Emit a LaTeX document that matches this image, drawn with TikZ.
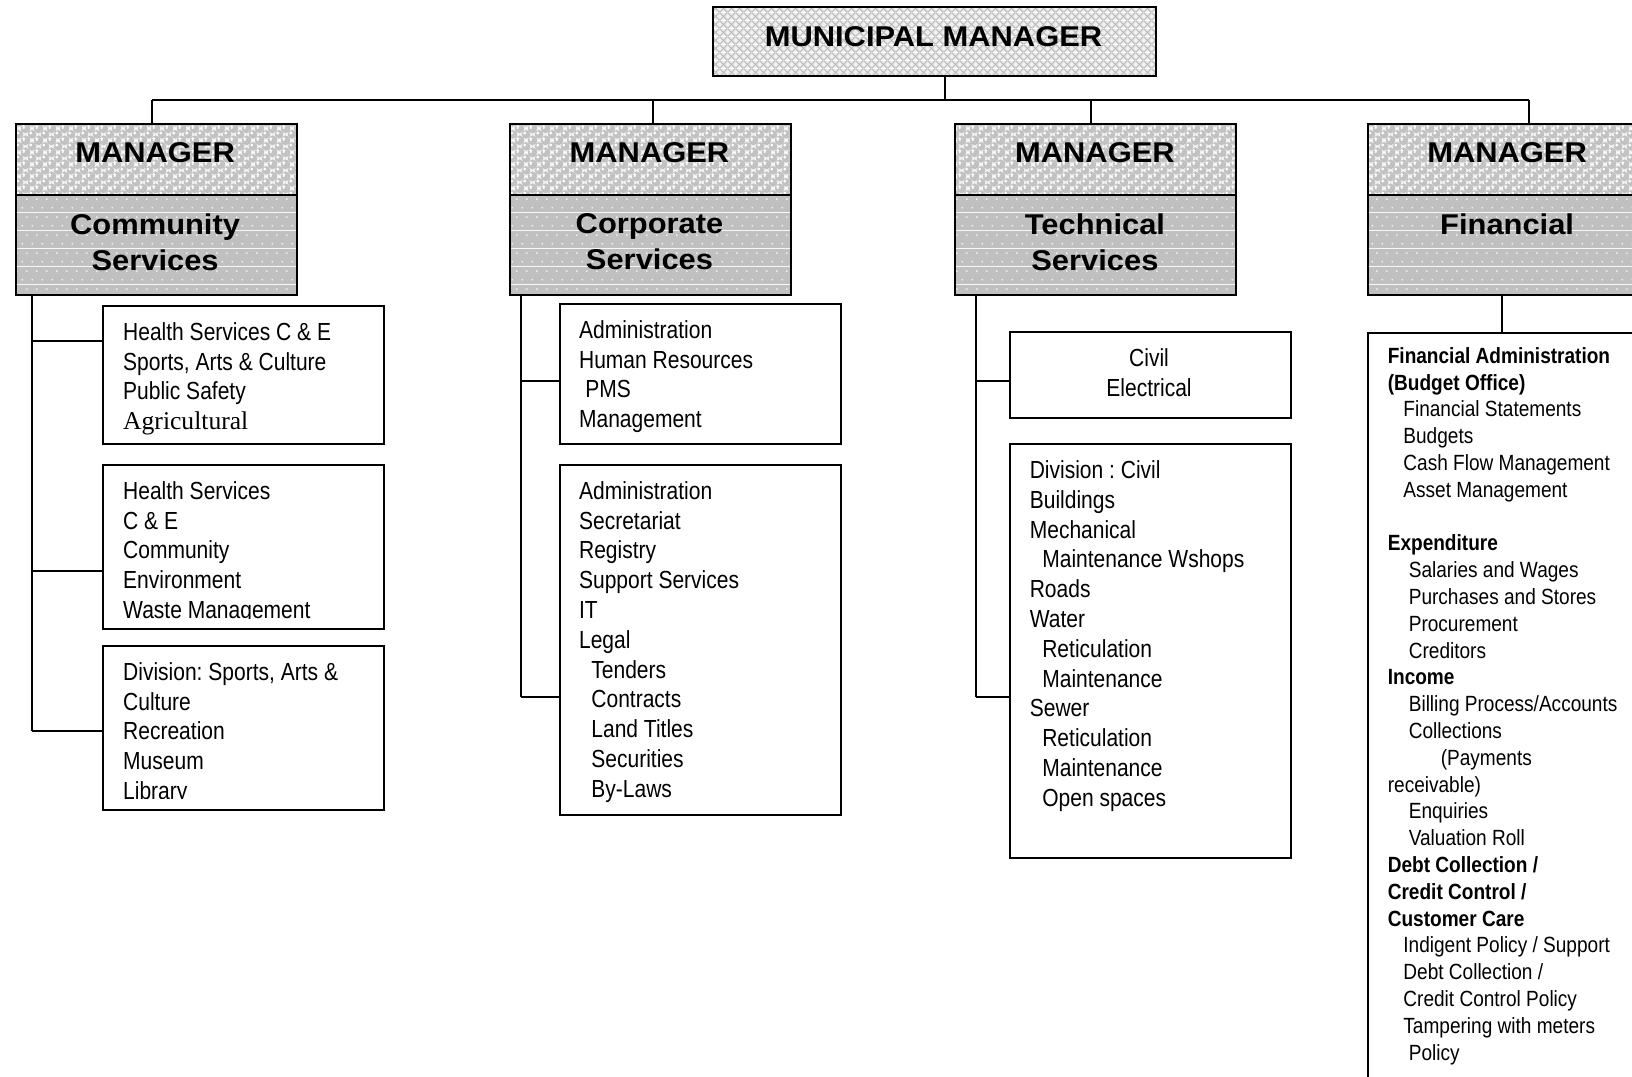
\documentclass[tikz,border=0pt]{standalone}
\usepackage{fontspec}
\usetikzlibrary{patterns.meta}
\newfontfamily\headfont[FakeStretch=1.08]{Liberation Sans}
\newfontfamily\bodyfont[FakeStretch=0.85]{Liberation Sans}
\newfontfamily\finfont[FakeStretch=0.866]{Liberation Sans}
\newfontfamily\romanfont{Liberation Serif}
\frenchspacing

\definecolor{svcgray}{HTML}{C0C0C0}
\definecolor{bubblebg}{HTML}{F2F2F2}
\definecolor{bubblefg}{HTML}{C2C2C2}
\definecolor{weavebg}{HTML}{EEEEEE}
\definecolor{weaveln}{HTML}{BABABA}

% textures for the heading boxes
\tikzdeclarepattern{
  name=weave,
  type=colored,
  bounding box={(0pt,0pt) and (4pt,4pt)},
  tile size={(4pt,4pt)},
  code={
    \fill[weavebg] (0pt,0pt) rectangle (4pt,4pt);
    \draw[weaveln, line width=0.55pt] (0pt,0pt) -- (4pt,4pt) (0pt,4pt) -- (4pt,0pt);
  }
}
\tikzdeclarepattern{
  name=bubbles,
  type=colored,
  bounding box={(0pt,0pt) and (6.5pt,6pt)},
  tile size={(6.5pt,6pt)},
  code={
    \fill[bubblebg] (0pt,0pt) rectangle (6.5pt,6pt);
    \fill[bubblefg] (0pt,0pt) circle (2.3pt);
    \fill[bubblefg] (6.5pt,0pt) circle (2.3pt);
    \fill[bubblefg] (0pt,6pt) circle (2.3pt);
    \fill[bubblefg] (6.5pt,6pt) circle (2.3pt);
    \fill[bubblefg] (3.25pt,3pt) circle (2.3pt);
    \fill[white] (2.55pt,3.7pt) circle (0.85pt);
    \fill[white] (5.8pt,0.7pt) circle (0.85pt);
    \fill[white] (-0.7pt,0.7pt) circle (0.85pt);
    \fill[white] (5.8pt,6.7pt) circle (0.85pt);
    \fill[white] (-0.7pt,6.7pt) circle (0.85pt);
  }
}
\tikzdeclarepattern{
  name=greydots,
  type=colored,
  bounding box={(0pt,0pt) and (5pt,9pt)},
  tile size={(5pt,9pt)},
  code={
    \fill[svcgray] (0pt,0pt) rectangle (5pt,9pt);
    \fill[white] (1.25pt,2.25pt) circle (0.45pt);
    \fill[white] (3.75pt,6.75pt) circle (0.45pt);
  }
}

\tikzset{
  box/.style={draw, line width=1pt, inner sep=0pt, anchor=north west},
  conn/.style={line width=1pt},
  headtxt/.style={font=\headfont\bfseries\fontsize{14.3}{18}\selectfont, inner sep=0pt, align=center},
  bodytxt/.style={font=\bodyfont\fontsize{12.36}{14.9}\selectfont\frenchspacing, inner sep=0pt, align=left, anchor=north west},
  fintxt/.style={font=\finfont\fontsize{11}{13.4}\selectfont\frenchspacing, inner sep=0pt, align=left, anchor=north west},
  mgrtop/.style={box, pattern=bubbles, minimum width=140.5pt, minimum height=35.3pt},
  mgrbot/.style={box, pattern=greydots, minimum width=140.5pt, minimum height=49.95pt},
  subbox/.style={box, minimum width=140.5pt},
}

\begin{document}
\begin{tikzpicture}[x=0.5pt,y=-0.5pt]
\useasboundingbox (0,0) rectangle (1632,1076);

% municipal manager
\node[box, pattern=weave, minimum width=221.5pt, minimum height=34.5pt] (mm) at (712,6) {};
\node[headtxt] (mmt) at (933.5,36.4) {MUNICIPAL MANAGER};

% department heads
\node[mgrtop] (m1) at (14.6,123) {};
\node[mgrbot] (s1) at (14.6,193.6) {};
\node[headtxt] (m1t) at (155.1,153) {MANAGER};
\node[headtxt] (s1t) at (155.1,242) {Community\\Services};

\node[mgrtop] (m2) at (509,123) {};
\node[mgrbot] (s2) at (509,193.6) {};
\node[headtxt] (m2t) at (649.5,153) {MANAGER};
\node[headtxt] (s2t) at (649.5,242) {Corporate\\Services};

\node[mgrtop] (m3) at (954.4,123) {};
\node[mgrbot] (s3) at (954.4,193.6) {};
\node[headtxt] (m3t) at (1094.9,153) {MANAGER};
\node[headtxt] (s3t) at (1094.9,242) {Technical\\Services};

\node[mgrtop] (m4) at (1366.6,123) {};
\node[mgrbot] (s4) at (1366.6,193.6) {};
\node[headtxt] (m4t) at (1507.1,153) {MANAGER};
\node[headtxt] (s4t) at (1507.1,224) {Financial};

% top-level connectors
\coordinate (top) at (945,100);
\coordinate (bus1) at (152,100);
\coordinate (bus2) at (652.6,100);
\coordinate (bus3) at (1090.8,100);
\coordinate (bus4) at (1529,100);
\draw[conn] (top |- mm.south) -- (top);
\draw[conn] (bus1) -- (bus4);
\draw[conn] (bus1) -- (bus1 |- m1.north);
\draw[conn] (bus2) -- (bus2 |- m2.north);
\draw[conn] (bus3) -- (bus3 |- m3.north);
\draw[conn] (bus4) -- (bus4 |- m4.north);

% community services
\node[subbox, minimum height=69pt] (a1) at (102,305) {};
\node[subbox, minimum height=81.8pt] (a2) at (102,464) {};
\node[subbox, minimum height=82pt] (a3) at (102,645) {};
\node[bodytxt] (a1t) at (122.8,319) {\strut Health Services C \& E\\
Sports, Arts \& Culture\\
Public Safety\\
{\romanfont\fontsize{12.8}{14.9}\selectfont Agricultural}};
\begin{scope}
\clip (102,464) rectangle (383,618);
\node[bodytxt] (a2t) at (122.8,478) {\strut Health Services\\
C \& E\\
Community\\
Environment\\
Waste Management};
\end{scope}
\begin{scope}
\clip (102,645) rectangle (383,798);
\node[bodytxt] (a3t) at (122.8,659) {\strut Division: Sports, Arts \&\\
Culture\\
Recreation\\
Museum\\
Library};
\end{scope}
\coordinate (v1a) at (32.3,341.4);
\coordinate (v1b) at (32.3,571.4);
\coordinate (v1c) at (32.3,730.6);
\draw[conn] (v1a |- s1.south) -- (v1c);
\draw[conn] (v1a) -- (v1a -| a1.west);
\draw[conn] (v1b) -- (v1b -| a2.west);
\draw[conn] (v1c) -- (v1c -| a3.west);

% corporate services
\node[subbox, minimum height=70.2pt] (b1) at (559,303) {};
\node[subbox, minimum height=175pt] (b2) at (559,464) {};
\node[bodytxt] (b1t) at (578.7,317) {\strut Administration\\
Human Resources\\
\hspace*{3.15pt}PMS\\
Management};
\node[bodytxt] (b2t) at (578.7,478) {\strut Administration\\
Secretariat\\
Registry\\
Support Services\\
IT\\
Legal\\
\hspace*{6.15pt}Tenders\\
\hspace*{6.15pt}Contracts\\
\hspace*{6.15pt}Land Titles\\
\hspace*{6.15pt}Securities\\
\hspace*{6.15pt}By-Laws};
\coordinate (v2a) at (521.4,381);
\coordinate (v2b) at (521.4,697.3);
\draw[conn] (v2a |- s2.south) -- (v2b);
\draw[conn] (v2a) -- (v2a -| b1.west);
\draw[conn] (v2b) -- (v2b -| b2.west);

% technical services
\node[subbox, minimum height=43.2pt] (c1) at (1008.5,331) {};
\node[subbox, minimum height=206.6pt] (c2) at (1008.5,443.4) {};
\node[bodytxt, anchor=north, align=center] (c1t) at (1149,345) {\strut Civil\\Electrical};
\node[bodytxt] (c2t) at (1029.4,457.3) {\strut Division : Civil\\
Buildings\\
Mechanical\\
\hspace*{6.25pt}Maintenance Wshops\\
Roads\\
Water\\
\hspace*{6.25pt}Reticulation\\
\hspace*{6.25pt}Maintenance\\
Sewer\\
\hspace*{6.25pt}Reticulation\\
\hspace*{6.25pt}Maintenance\\
\hspace*{6.25pt}Open spaces};
\coordinate (v3a) at (976.3,381);
\coordinate (v3b) at (976.3,697.3);
\draw[conn] (v3a |- s3.south) -- (v3b);
\draw[conn] (v3a) -- (v3a -| c1.west);
\draw[conn] (v3b) -- (v3b -| c2.west);

% financial
\node[box, minimum width=146.7pt, minimum height=379pt] (fb) at (1366.6,332) {};
\coordinate (fdrop) at (1502,300);
\draw[conn] (fdrop |- s4.south) -- (fdrop |- fb.north);
\node[fintxt] (fbt) at (1387.4,344.1) {\strut\textbf{Financial Administration}\\
\textbf{(Budget Office)}\\
\hspace*{7.8pt}Financial Statements\\
\hspace*{7.8pt}Budgets\\
\hspace*{7.8pt}Cash Flow Management\\
\hspace*{7.8pt}Asset Management\\
\strut\\
\textbf{Expenditure}\\
\hspace*{10.5pt}Salaries and Wages\\
\hspace*{10.5pt}Purchases and Stores\\
\hspace*{10.5pt}Procurement\\
\hspace*{10.5pt}Creditors\\
\textbf{Income}\\
\hspace*{10.5pt}Billing Process/Accounts\\
\hspace*{10.5pt}Collections\\
\hspace*{26.5pt}(Payments\\
receivable)\\
\hspace*{10.5pt}Enquiries\\
\hspace*{10.5pt}Valuation Roll\\
\textbf{Debt Collection /}\\
\textbf{Credit Control /}\\
\textbf{Customer Care}\\
\hspace*{7.8pt}Indigent Policy / Support\\
\hspace*{7.8pt}Debt Collection /\\
\hspace*{7.8pt}Credit Control Policy\\
\hspace*{7.8pt}Tampering with meters\\
\hspace*{10.5pt}Policy};
\end{tikzpicture}
\end{document}
